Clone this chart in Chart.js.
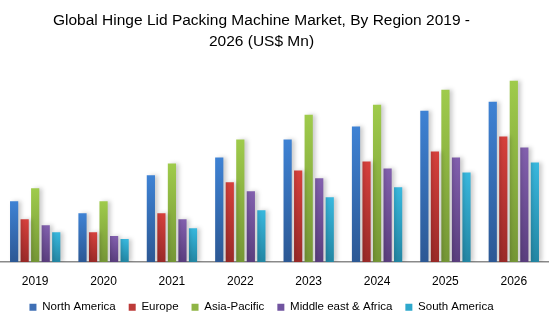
<!DOCTYPE html>
<html lang="en">
<head>
    <meta charset="UTF-8">
    <title>Hinge Lid Packing Machine Market</title>
    <script src="https://cdn.jsdelivr.net/npm/chart.js"></script>
    <style>
        body { margin: 0; background: #fff; }
        .chart-box { width: 558px; height: 322px; }
    </style>
</head>
<body>
    <div class="chart-box"><canvas id="marketChart"></canvas></div>

    <script>
        // market size by region, US$ Mn
        const years = ['2019', '2020', '2021', '2022', '2023', '2024', '2025', '2026'];
        const northAmerica = [61, 49, 87, 105, 123, 136, 152, 161];
        const europe = [43, 30, 49, 80, 92, 101, 111, 126];
        const asiaPacific = [74, 61, 99, 123, 148, 158, 173, 182];
        const middleEastAfrica = [37, 26, 43, 71, 84, 94, 105, 115];
        const southAmerica = [30, 23, 34, 52, 65, 75, 90, 100];

        const regions = ['North America', 'Europe', 'Asia-Pacific', 'Middle east & Africa', 'South America'];
        const seriesValues = [northAmerica, europe, asiaPacific, middleEastAfrica, southAmerica];

        // [top of bar, bottom of bar, legend swatch]
        const palette = [
            ['#3e82d4', '#2c5894', '#3f6fb5'],
            ['#d6403c', '#9a2a28', '#bd3b39'],
            ['#9fcb4b', '#759636', '#8fb545'],
            ['#8260ae', '#5a3e7e', '#7154a0'],
            ['#38b8de', '#2386a3', '#2ea8cc']
        ];

        // vertical gradient for each bar, light at the top
        function barFill(top, bottom) {
            return function(ctx) {
                const chart = ctx.chart;
                if (!chart.chartArea || ctx.type !== 'data') return top;
                const y = chart.scales.y;
                const y0 = y.getPixelForValue(ctx.parsed.y);
                const y1 = y.getPixelForValue(0);
                const g = chart.ctx.createLinearGradient(0, y0, 0, y1);
                g.addColorStop(0, top);
                g.addColorStop(1, bottom);
                return g;
            };
        }

        const barShadow = {
            id: 'barShadow',
            beforeDatasetsDraw(chart) {
                const c = chart.ctx;
                c.save();
                c.shadowColor = 'rgba(0, 0, 0, 0.2)';
                c.shadowBlur = 4;
                c.shadowOffsetX = 3;
                c.shadowOffsetY = 0;
            },
            afterDatasetsDraw(chart) {
                chart.ctx.restore();
            }
        };

        // title and legend sit a little left of the canvas centre
        const shiftBlocks = {
            id: 'shiftBlocks',
            afterLayout(chart) {
                const dx = -13;
                [chart.titleBlock, chart.legend].forEach(b => {
                    if (!b) return;
                    b.left += dx;
                    b.right += dx;
                });
            }
        };

        new Chart(document.getElementById('marketChart'), {
            type: 'bar',
            data: {
                labels: years,
                datasets: regions.map((name, i) => ({
                    label: name,
                    data: seriesValues[i],
                    backgroundColor: barFill(palette[i][0], palette[i][1]),
                    borderWidth: 0,
                    categoryPercentage: 0.77,
                    barPercentage: 0.78
                }))
            },
            options: {
                responsive: true,
                maintainAspectRatio: false,
                animation: false,
                layout: {
                    padding: { left: 1, right: 10, top: 4, bottom: 0 }
                },
                scales: {
                    x: {
                        grid: { display: false, drawTicks: false },
                        border: { display: true, color: '#8a8a8a', width: 1.5 },
                        ticks: {
                            color: '#000',
                            padding: 12,
                            font: { family: 'Liberation Sans', size: 12 }
                        },
                        afterFit(scale) {
                            scale.height = 26.4;
                        }
                    },
                    y: {
                        display: false,
                        min: 0,
                        max: 201
                    }
                },
                plugins: {
                    title: {
                        display: true,
                        text: ['Global Hinge Lid Packing Machine Market, By Region 2019 -', '2026 (US$ Mn)'],
                        color: '#000',
                        font: { family: 'Liberation Sans', size: 15.5, weight: 'normal', lineHeight: 1.35 },
                        padding: { top: 6, bottom: 10 }
                    },
                    legend: {
                        position: 'bottom',
                        maxHeight: 33.6,
                        labels: {
                            color: '#000',
                            boxWidth: 7,
                            boxHeight: 7,
                            padding: 13,
                            font: { family: 'Liberation Sans', size: 11.5 },
                            generateLabels(chart) {
                                const items = Chart.defaults.plugins.legend.labels.generateLabels(chart);
                                return items.map((item, i) => Object.assign(item, {
                                    fillStyle: palette[i][2],
                                    strokeStyle: palette[i][2],
                                    lineWidth: 0
                                }));
                            }
                        }
                    },
                    tooltip: { enabled: false }
                }
            },
            plugins: [barShadow, shiftBlocks]
        });
    </script>
</body>
</html>
